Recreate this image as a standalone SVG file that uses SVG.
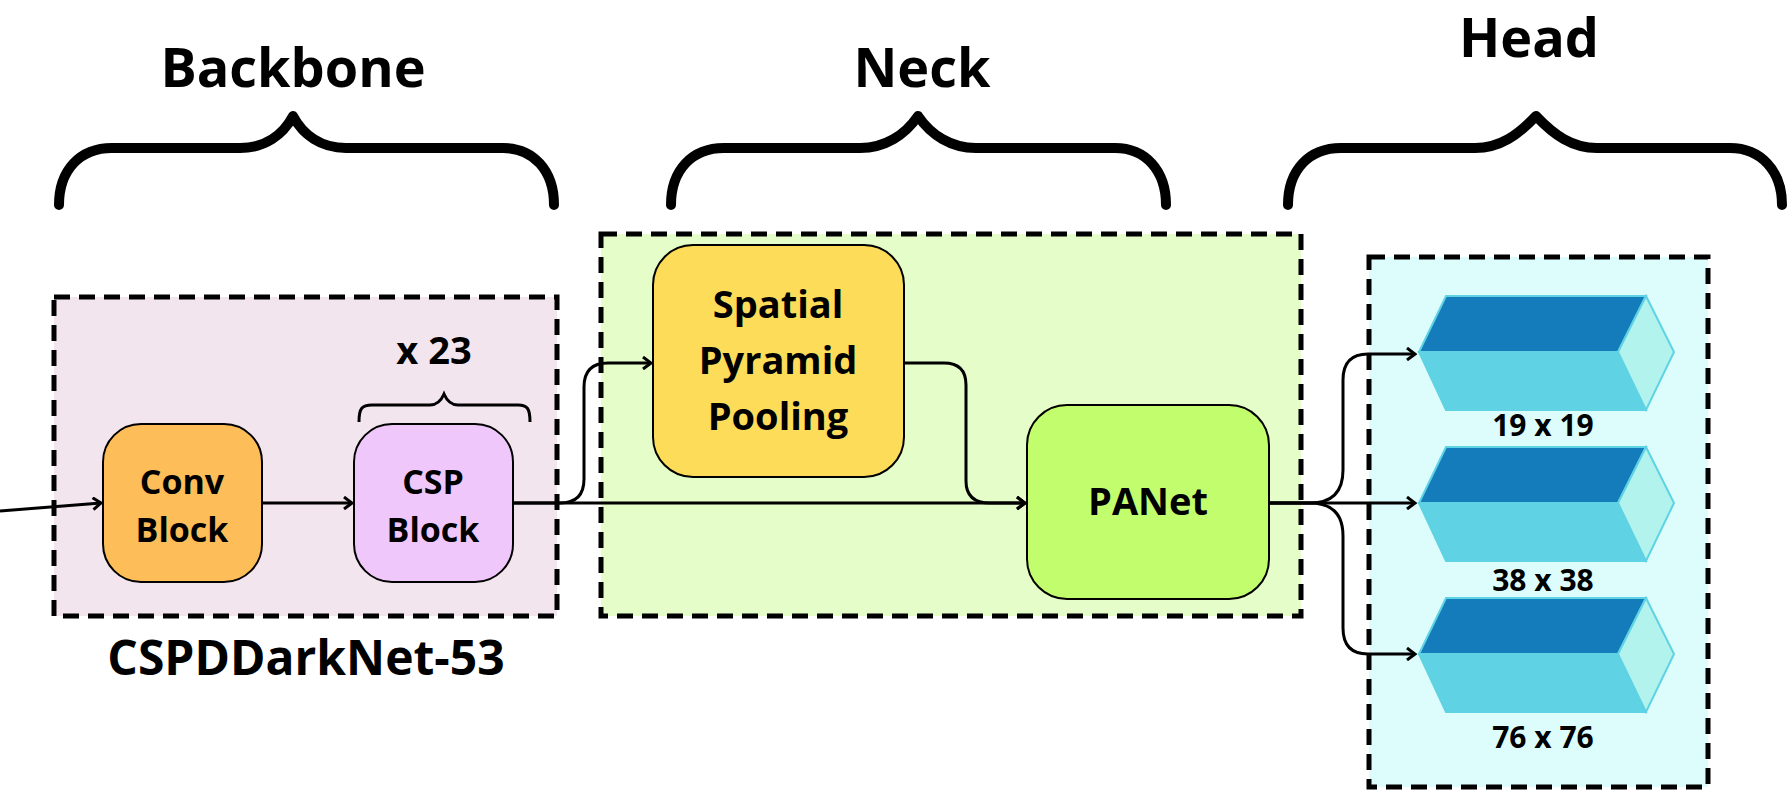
<svg xmlns="http://www.w3.org/2000/svg" width="1789" height="791" viewBox="0 0 1789 791">
<style>
text{font-family:"Open Sans","Liberation Sans",sans-serif;font-weight:700;fill:#000;text-anchor:middle}
.title{font-size:54px}
.lbl{font-size:34px}
.dim{font-size:30px}
.grp{stroke:#000;stroke-width:5;stroke-dasharray:16 9}
.node{stroke:#000;stroke-width:2}
.brace{fill:none;stroke:#000;stroke-width:10;stroke-linecap:round;stroke-linejoin:round}
.conn path{fill:none;stroke:#000;stroke-width:3;marker-end:url(#ah)}
.dark{fill:#157cbc;stroke:#5fd2e4;stroke-width:2}
.light{fill:#5fd2e4;stroke:#5fd2e4;stroke-width:2}
.side{fill:#b3f3ee;stroke:#5fd2e4;stroke-width:2}
</style>
<defs>
<marker id="ah" markerWidth="12" markerHeight="14" refX="10" refY="7" orient="auto" markerUnits="userSpaceOnUse">
<path d="M2,1 L10,7 L2,13" fill="none" stroke="#000" stroke-width="3"/>
</marker>
</defs>
<rect width="1789" height="791" fill="#fff"/>
<g id="backbone-title"><text class="title" x="293" y="87">Backbone</text>
<path class="brace" d="M59,205 C59,170 80,148 112,148 H240 C265,148 283,135 293,116 C303,135 321,148 346,148 H503 C533,148 554,170 554,205"/></g>
<g id="neck-title"><text class="title" x="922" y="87">Neck</text>
<path class="brace" d="M671,205 C671,170 692,148 724,148 H860 C885,148 905,135 918,116 C931,135 951,148 976,148 H1115 C1145,148 1166,170 1166,205"/></g>
<g id="head-title"><text class="title" x="1529" y="57">Head</text>
<path class="brace" d="M1288,205 C1288,170 1309,148 1341,148 H1475 C1500,148 1518,135 1536,116 C1554,135 1572,148 1597,148 H1730 C1760,148 1782,170 1782,205"/></g>
<g id="backbone-group"><rect class="grp" x="54" y="297" width="503" height="319" fill="#f3e5ee"/>
<text class="title" x="306" y="675" style="font-size:48px">CSPDDarkNet-53</text></g>
<g id="neck-group"><rect class="grp" x="601" y="234" width="700" height="382" fill="#e5fdc8"/></g>
<g id="head-group"><rect class="grp" x="1369" y="257" width="339" height="530" fill="#dcfdfc"/></g>
<g id="conv-block"><rect class="node" x="103" y="424" width="159" height="158" rx="38" fill="#fdbd58"/>
<text class="lbl" x="182" y="494">Conv</text><text class="lbl" x="182" y="542">Block</text></g>
<g id="csp-block"><rect class="node" x="354" y="424" width="159" height="158" rx="38" fill="#f0c7fb"/>
<text class="lbl" x="433" y="494">CSP</text><text class="lbl" x="433" y="542">Block</text>
<text class="lbl" x="434" y="364" style="font-size:38px">x 23</text>
<path d="M359,422 C359,408 362,405 372,405 H430 C437,405 441,401 444,394 C447,401 451,405 458,405 H518 C527,405 530,408 530,422" fill="none" stroke="#000" stroke-width="3"/></g>
<g id="spp"><rect class="node" x="653" y="245" width="251" height="232" rx="40" fill="#fddc5a"/>
<text class="lbl" x="778" y="318" style="font-size:38px">Spatial</text>
<text class="lbl" x="778" y="374" style="font-size:38px">Pyramid</text>
<text class="lbl" x="778" y="430" style="font-size:38px">Pooling</text></g>
<g id="panet"><rect class="node" x="1027" y="405" width="242" height="194" rx="40" fill="#c1fd6d"/>
<text class="lbl" x="1148" y="515" style="font-size:38px">PANet</text></g>
<g id="prism-19">
<polygon class="dark" points="1446,296 1646,296 1618,352 1419,352"/>
<polygon class="light" points="1419,352 1618,352 1646,410 1446,410"/>
<polygon class="side" points="1646,296 1674,352 1646,410 1618,352"/>
<text class="dim" x="1543" y="436">19 x 19</text></g>
<g id="prism-38">
<polygon class="dark" points="1446,447 1646,447 1618,503 1419,503"/>
<polygon class="light" points="1419,503 1618,503 1646,561 1446,561"/>
<polygon class="side" points="1646,447 1674,503 1646,561 1618,503"/>
<text class="dim" x="1543" y="591">38 x 38</text></g>
<g id="prism-76">
<polygon class="dark" points="1446,598 1646,598 1618,654 1419,654"/>
<polygon class="light" points="1419,654 1618,654 1646,712 1446,712"/>
<polygon class="side" points="1646,598 1674,654 1646,712 1618,654"/>
<text class="dim" x="1543" y="748">76 x 76</text></g>
<g class="conn" id="connectors">
<path d="M0,511 L101,503"/>
<path d="M262,503 H352"/>
<path d="M513,503 H1025"/>
<path d="M513,503 H560 Q584,503 584,479 V387 Q584,363 608,363 H651"/>
<path d="M904,363 H944 Q966,363 966,385 V481 Q966,503 990,503 H1025"/>
<path d="M1269,503 H1415"/>
<path d="M1269,503 H1310 Q1343,503 1343,470 V380 Q1343,354 1368,354 H1415"/>
<path d="M1269,503 H1310 Q1343,503 1343,536 V628 Q1343,654 1368,654 H1415"/>
</g>
</svg>
